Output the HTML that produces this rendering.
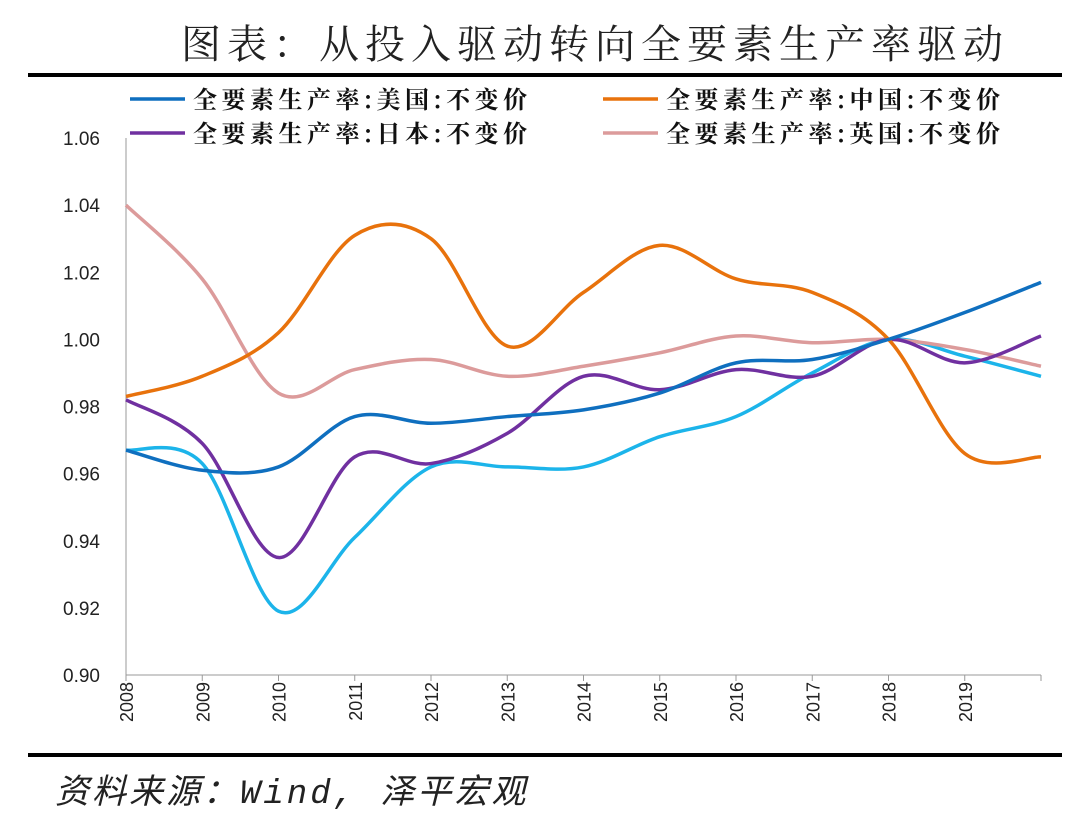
<!DOCTYPE html>
<html><head><meta charset="utf-8"><style>
body{margin:0;background:#fff;}
svg text{font-family:"Liberation Sans","Noto Sans CJK SC",sans-serif;}
</style></head><body>
<svg width="1080" height="830" viewBox="0 0 1080 830" xmlns="http://www.w3.org/2000/svg">
<text x="595" y="58" text-anchor="middle" font-size="40" fill="#222" letter-spacing="6" style="font-family:'Noto Serif CJK SC','Noto Sans CJK SC',serif">图表：从投入驱动转向全要素生产率驱动</text>
<rect x="28" y="73" width="1034" height="4" fill="#000"/>
<rect x="28" y="753" width="1034" height="4" fill="#000"/>
<text x="55" y="803" font-size="34" font-style="italic" fill="#222" letter-spacing="3" style="font-family:'Liberation Mono','Noto Sans CJK SC',monospace">资料来源：Wind, 泽平宏观</text>
<g id="legend"></g>
<g id="axes"></g>
<g id="series"></g>
</svg>
<script>
const years=['2008','2009','2010','2011','2012','2013','2014','2015','2016','2017','2018','2019','2020'];
const xTickLabels=['2008','2009','2010','2011','2012','2013','2014','2015','2016','2017','2018','2019'];
const yTicks=[0.90,0.92,0.94,0.96,0.98,1.00,1.02,1.04,1.06];
const usa=[0.967,0.961,0.962,0.977,0.975,0.977,0.979,0.984,0.993,0.994,1.000,1.008,1.017];
const china=[0.983,0.989,1.002,1.031,1.030,0.998,1.014,1.028,1.018,1.014,1.000,0.966,0.965];
const japan=[0.982,0.969,0.935,0.965,0.963,0.972,0.989,0.985,0.991,0.989,1.000,0.993,1.001];
const uk=[1.040,1.018,0.984,0.991,0.994,0.989,0.992,0.996,1.001,0.999,1.000,0.997,0.992];
const other=[0.967,0.963,0.919,0.941,0.962,0.962,0.962,0.971,0.977,0.990,1.000,0.995,0.989];
const seriesNames=['全要素生产率:美国:不变价','全要素生产率:中国:不变价','全要素生产率:日本:不变价','全要素生产率:英国:不变价'];

const NS='http://www.w3.org/2000/svg';
const X0=126,X1=1041,Y0=675,Y1=138,VMIN=0.90,VMAX=1.06;
function xs(i){return X0+i*(X1-X0)/(years.length-1);}
function ys(v){return Y0-(v-VMIN)/(VMAX-VMIN)*(Y0-Y1);}
function mk(tag,parent){const e=document.createElementNS(NS,tag);document.getElementById(parent).appendChild(e);return e;}

let a=mk('line','axes');


a.setAttribute('x1',X0);a.setAttribute('x2',X0);a.setAttribute('y1',Y1);a.setAttribute('y2',Y0);a.setAttribute('stroke','#999');
a=mk('line','axes');


a.setAttribute('x1',X0);a.setAttribute('x2',X1);a.setAttribute('y1',Y0);a.setAttribute('y2',Y0);a.setAttribute('stroke','#999');
yTicks.forEach(v=>{
 const t=mk('text','axes');
 
 
 t.setAttribute('x',100);t.setAttribute('y',ys(v)+7);t.setAttribute('text-anchor','end');t.setAttribute('font-size','19');t.setAttribute('fill','#222');
 t.textContent=v.toFixed(2);
});
years.forEach((y,i)=>{
 const l=mk('line','axes');
 
 
 l.setAttribute('x1',xs(i));l.setAttribute('x2',xs(i));l.setAttribute('y1',Y0);l.setAttribute('y2',Y0+6);l.setAttribute('stroke','#999');
});
xTickLabels.forEach((y,i)=>{
 const t=mk('text','axes');
 
 
 const x=xs(i)+7,yy=682;
 t.setAttribute('transform','translate('+x+','+yy+') rotate(-90)');
 t.setAttribute('text-anchor','end');t.setAttribute('font-size','18');t.setAttribute('fill','#222');
 t.textContent=y;
});
function path(vals){
 const p=vals.map((v,i)=>[xs(i),ys(v)]);
 let d='M'+p[0][0]+','+p[0][1];
 for(let i=0;i<p.length-1;i++){
  const p0=p[Math.max(i-1,0)],p1=p[i],p2=p[i+1],p3=p[Math.min(i+2,p.length-1)];
  const c1=[p1[0]+(p2[0]-p0[0])/6,p1[1]+(p2[1]-p0[1])/6];
  const c2=[p2[0]-(p3[0]-p1[0])/6,p2[1]-(p3[1]-p1[1])/6];
  d+=' C'+c1+' '+c2+' '+p2;
 }
 return d;
}
const defs=[[other,'#1cb4ea','series-other'],[uk,'#dc9b9b','series-uk'],[japan,'#7030a0','series-japan'],[china,'#e8720c','series-china'],[usa,'#0f6fbf','series-usa']];
defs.forEach(s=>{
 const e=mk('path','series');
 
 
 e.setAttribute('d',path(s[0]));e.setAttribute('fill','none');e.setAttribute('stroke',s[1]);e.setAttribute('stroke-width','3.5');
});
const legCols=['#0f6fbf','#e8720c','#7030a0','#dc9b9b'];
seriesNames.forEach((n,i)=>{
 const lx=i%2?603:130,ly=i<2?99:133;
 const l=mk('line','legend');
 
 
 l.setAttribute('x1',lx);l.setAttribute('x2',lx+55);l.setAttribute('y1',ly);l.setAttribute('y2',ly);l.setAttribute('stroke',legCols[i]);l.setAttribute('stroke-width','3.5');
 const t=mk('text','legend');
 
 
 t.setAttribute('x',lx+63);t.setAttribute('y',ly+9);t.setAttribute('font-size','24');t.setAttribute('fill','#111');t.setAttribute('letter-spacing','4.5');t.setAttribute('font-weight','bold');
 t.setAttribute('style',"font-family:'Noto Serif CJK SC','Noto Sans CJK SC',serif");
 t.textContent=n;
});
</script>
</body></html>
